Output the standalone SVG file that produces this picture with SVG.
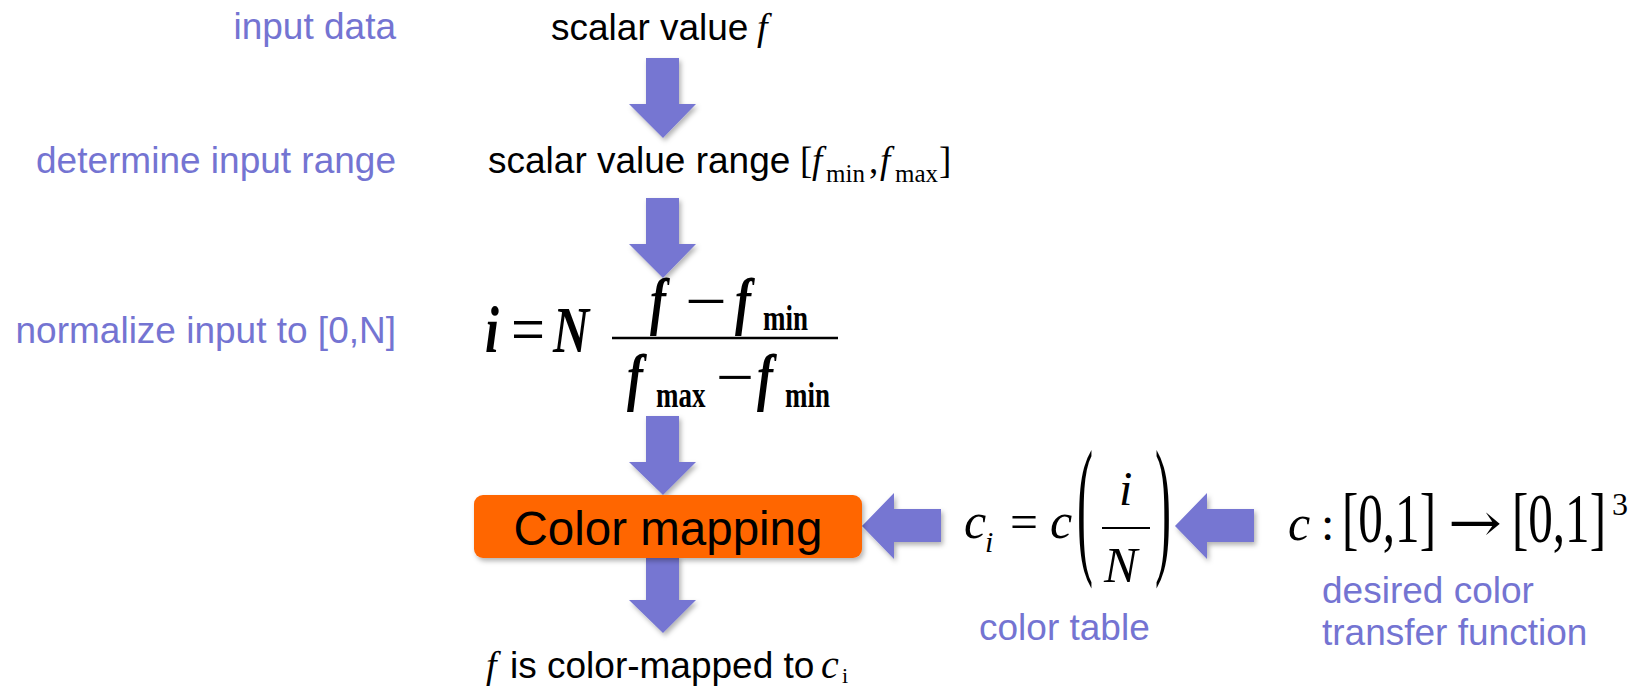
<svg xmlns="http://www.w3.org/2000/svg" width="1639" height="686" viewBox="0 0 1639 686">
<defs>
<filter id="sh" x="-30%" y="-30%" width="170%" height="180%">
<feDropShadow dx="2" dy="3" stdDeviation="2.5" flood-color="#000" flood-opacity="0.3"/>
</filter>
<style>
.lbl{font-family:"Liberation Sans",Arial,sans-serif;font-size:37px;fill:#7474D2}
.txt{font-family:"Liberation Sans",Arial,sans-serif;font-size:37px;fill:#000}
.m{font-family:"Liberation Serif","Times New Roman",serif;fill:#000}
.it{font-style:italic}
.bd{font-weight:bold}
.arr{fill:#7676D2;filter:url(#sh)}
</style>
</defs>
<rect width="1639" height="686" fill="#fff"/>

<g id="step-labels">
<text class="lbl" x="396" y="39" text-anchor="end">input data</text>
<text class="lbl" x="396" y="173" text-anchor="end">determine input range</text>
<text class="lbl" x="396" y="343" text-anchor="end">normalize input to [0,N]</text>
</g>

<g id="connectors">
<polygon class="arr" points="646,58 679,58 679,104 696,104 663,138 629,104 646,104"/>
<polygon class="arr" points="646,198 679,198 679,244 696,244 663,278 629,244 646,244"/>
<polygon class="arr" points="646,416 679,416 679,462 696,462 663,495 629,462 646,462"/>
<polygon class="arr" points="646,556 679,556 679,600 696,600 663,633 629,600 646,600"/>
<polygon class="arr" points="941,509 941,542 894,542 894,559 862,526 894,493 894,509"/>
<polygon class="arr" points="1254,509 1254,542 1207,542 1207,559 1175,526 1207,493 1207,509"/>
</g>

<g id="n-input">
<text class="txt" x="551" y="40">scalar value</text>
<text class="m it" x="757" y="40" font-size="38">f</text>
</g>

<g id="n-range">
<text class="txt" x="488" y="173">scalar value range</text>
<text class="m" x="800" y="173" font-size="37">[</text>
<text class="m it" x="812" y="173" font-size="37">f</text>
<text class="m" x="826" y="182" font-size="25">min</text>
<text class="m" x="869" y="173" font-size="37">,</text>
<text class="m it" x="880" y="173" font-size="37">f</text>
<text class="m" x="895" y="182" font-size="25">max</text>
<text class="m" x="939" y="173" font-size="37">]</text>
</g>

<g id="n-normalize">
<g transform="translate(0,338) scale(1,1.3) translate(0,-338)">
<text class="m it bd" x="485" y="349" font-size="50">i</text>
<text class="m" x="511" y="349" font-size="52" textLength="34" lengthAdjust="spacingAndGlyphs">=</text>
<text class="m it bd" x="553" y="349" font-size="50">N</text>
<text class="m it bd" x="650" y="326" font-size="48">f</text>
<text class="m" x="685" y="326" font-size="48" textLength="42" lengthAdjust="spacingAndGlyphs">−</text>
<text class="m it bd" x="735" y="326" font-size="48">f</text>
<text class="m bd" x="763" y="332" font-size="27">min</text>
<text class="m it bd" x="627" y="384" font-size="48">f</text>
<text class="m bd" x="656" y="391" font-size="27">max</text>
<text class="m" x="716" y="384" font-size="48" textLength="38" lengthAdjust="spacingAndGlyphs">−</text>
<text class="m it bd" x="757" y="384" font-size="48">f</text>
<text class="m bd" x="785" y="391" font-size="27">min</text>
</g>
<line x1="612" y1="338" x2="838" y2="338" stroke="#000" stroke-width="2.5"/>
</g>

<g id="n-colormap">
<rect x="474" y="495" width="388" height="63" rx="9" fill="#FF6600" filter="url(#sh)"/>
<text x="668" y="545" text-anchor="middle" font-family="'Liberation Sans',Arial,sans-serif" font-size="47.5" fill="#000">Color mapping</text>
</g>

<g id="n-result">
<text class="m it" x="486" y="678" font-size="38">f</text>
<text class="txt" x="510" y="678">is color-mapped to</text>
<text class="m it" x="821" y="678" font-size="40">c</text>
<text class="m" x="842" y="683" font-size="22">i</text>
</g>

<g id="n-colortable">
<text class="m it" x="964" y="538" font-size="50">c</text>
<text class="m it" x="985" y="552" font-size="30">i</text>
<text class="m" x="1010" y="538" font-size="48" textLength="28" lengthAdjust="spacingAndGlyphs">=</text>
<text class="m it" x="1050" y="538" font-size="50">c</text>
<text class="m" font-size="48" transform="translate(1077,555.6) scale(1,3.2)">(</text>
<text class="m it" x="1119" y="505" font-size="48">i</text>
<line x1="1102" y1="528" x2="1150" y2="528" stroke="#000" stroke-width="2"/>
<text class="m it" x="1104" y="582" font-size="50">N</text>
<text class="m" font-size="48" transform="translate(1155,555.6) scale(1,3.2)">)</text>
<text class="lbl" x="979" y="640">color table</text>
</g>

<g id="n-transfer">
<text class="m it" x="1288" y="540" font-size="50">c</text>
<text class="m" x="1321" y="540" font-size="48">:</text>
<g transform="translate(0,542) scale(1,1.45)">
<text class="m" x="1342" y="0" font-size="48" textLength="94" lengthAdjust="spacingAndGlyphs">[0,1]</text>
<text class="m" x="1512" y="0" font-size="48" textLength="94" lengthAdjust="spacingAndGlyphs">[0,1]</text>
</g>
<text x="1448" y="541" font-family="'DejaVu Serif','DejaVu Sans',serif" font-size="54" textLength="54" lengthAdjust="spacingAndGlyphs" fill="#000">→</text>
<text class="m" x="1612" y="515" font-size="32">3</text>
<text class="lbl" x="1322" y="603">desired color</text>
<text class="lbl" x="1322" y="645">transfer function</text>
</g>
</svg>
